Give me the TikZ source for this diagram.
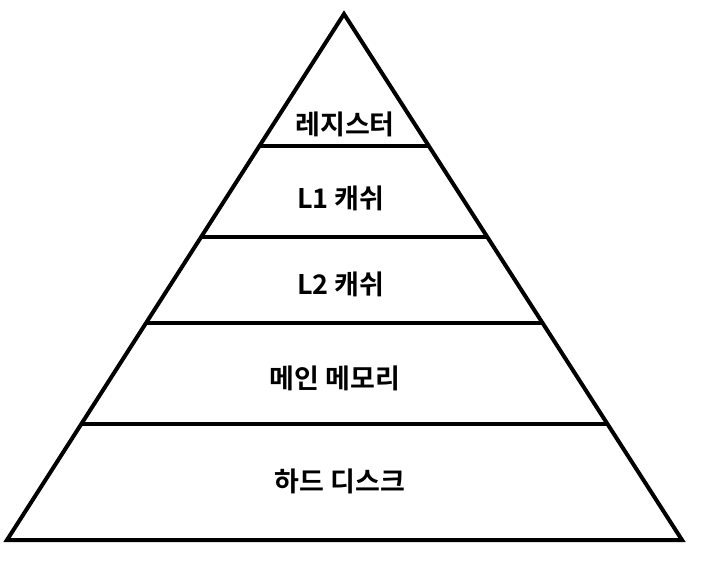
\documentclass[tikz,border=0pt]{standalone}
\usepackage{fontspec}
\newfontfamily\kr{Noto Sans CJK KR}[BoldFont={Noto Sans CJK KR Bold}]
\usetikzlibrary{calc}
\tikzset{
    edge/.style={line width=4pt, line join=miter},
    level/.style={font=\kr\bfseries\fontsize{27}{31}\selectfont, inner sep=0pt}
}

\begin{document}
\begin{tikzpicture}[x=1pt,y=-1pt]
    \useasboundingbox (0,0) rectangle (723,580);
    % pyramid outline
    \coordinate (top) at (344,14);
    \coordinate (bl) at (7,540);
    \coordinate (br) at (682,540);
    \draw[edge] (top) -- (bl) -- (br) -- cycle;

    % dividing lines, cut where they meet the sides
    \foreach \y [count=\i] in {146,237,323,424}{
        \pgfmathsetmacro{\t}{(\y-14)/526}
        \coordinate (l\i) at ($(top)!\t!(bl)$);
        \coordinate (r\i) at ($(top)!\t!(br)$);
        \draw[edge] (l\i) -- (r\i);
    }

    \node[level] (reg) at (345,124) {레지스터};
    \node[level] (lone) at (341,198) {L1 캐쉬};
    \node[level] (ltwo) at (341,284) {L2 캐쉬};
    \node[level] (mem) at (335,378) {메인 메모리};
    \node[level] (disk) at (340,481) {하드 디스크};
\end{tikzpicture}
\end{document}
